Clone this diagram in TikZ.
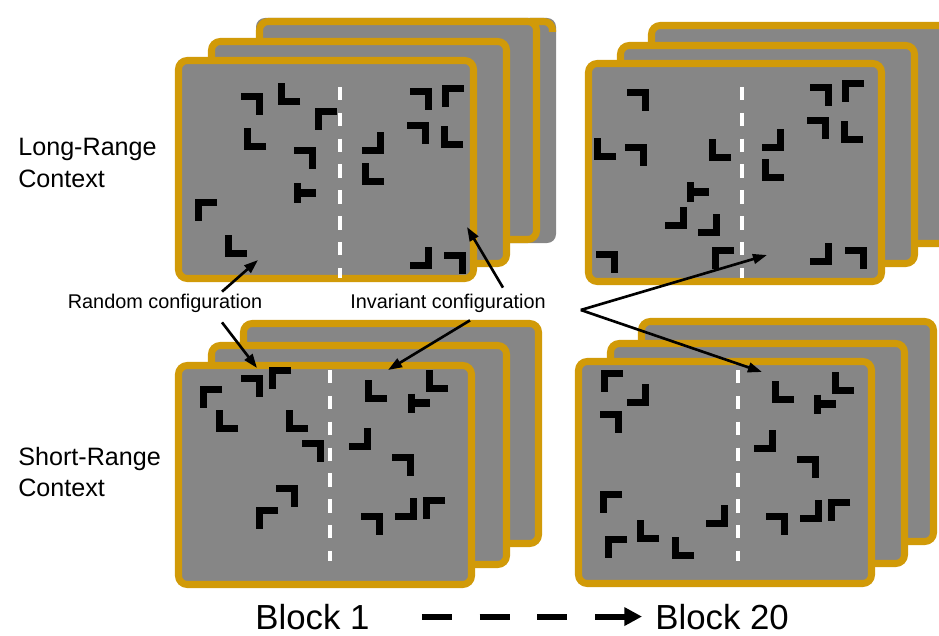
\documentclass[tikz,border=0pt]{standalone}
\usepackage{fontspec}
\setmainfont{Liberation Sans}
\usetikzlibrary{calc,arrows.meta}
\definecolor{cardgold}{RGB}{209,154,8}
\definecolor{cardgray}{RGB}{134,134,134}
\begin{document}
\begin{tikzpicture}[x=0.2mm,y=-0.2mm,>={Triangle[length=8pt,width=5.5pt]},
	card/.style={fill=cardgray,draw=cardgold,line width=4pt,rounded corners=5pt},
	divider/.style={white,line width=2.4pt,dash pattern=on 7.6pt off 7.1pt},
	elem/.style={line width=4pt,line join=miter},
	lbl/.style={font=\fontsize{14.3}{18.1}\selectfont,align=left,anchor=west,inner sep=0pt},
	cfg/.style={font=\fontsize{11.3}{13.6}\selectfont,inner sep=1pt},
	cfgarrow/.style={->,line width=1.5pt},
	blk/.style={font=\fontsize{19.8}{24}\selectfont,anchor=base west,inner sep=0pt},
	blkarrow/.style={-{Triangle[length=10pt,width=10pt]},line width=3.4pt,dash pattern=on 17pt off 15.9pt}]
	\useasboundingbox (0,0) rectangle (939,636);
	\fill[cardgray,rounded corners=5pt] (256,18) rectangle (556,243);
	\draw[cardgold,line width=4pt,rounded corners=5pt] (530,21.5) -- (552.5,21.5) -- (552.5,32);
	\foreach \a/\b/\c/\d in {259.5/21.5/536.5/239.5, 211.5/41.5/506.5/263.5, 178.5/60.5/473.5/278.5,
		651.5/25.5/960/243.5, 620.5/45.5/914.5/263.5, 588.5/63.5/881.5/281.5,
		243.5/323.5/538.5/543.5, 211.5/345.5/506.5/564.5, 178.5/365.5/471.5/584.5,
		641.5/321.5/933.5/541.5, 610.5/343.5/904.5/563.5, 578.5/361.5/871.5/583.5}
		\draw[card] (\a,\b) rectangle (\c,\d);
	\foreach \px/\py/\sx/\sy in {252/104/1/1, 289/94/-1/-1, 326/119/-1/1, 255/139/-1/-1, 305/158/1/1,
		206/210/-1/1, 236/246/-1/-1, 421/99/1/1, 453/96/-1/1, 418/133/1/1, 452/137/-1/-1,
		373/143/1/-1, 373/174/-1/-1, 421/258/1/-1, 455/263/1/1,
		638/100/1/1, 605/149/-1/-1, 636/155/1/1, 720/150/-1/-1, 676/218/1/-1, 709/225/1/-1,
		607/262/1/1, 723/258/-1/1, 821/95/1/1, 853/91/-1/1, 818/128/1/1, 852/132/-1/-1,
		773/140/1/-1, 773/170/-1/-1, 821/254/1/-1, 856/258/1/1,
		252/386/1/1, 280/378/-1/1, 211/397/-1/1, 227/421/-1/-1, 297/421/-1/-1, 313/451/1/1,
		287/496/1/1, 267/518/-1/1, 376/391/-1/-1, 437/381/-1/-1, 360/439/1/-1, 403/465/1/1,
		372/524/1/1, 406/509/1/-1, 434/508/-1/1,
		612/381/-1/1, 638/395/1/-1, 611/422/1/1, 611/502/-1/1, 648/531/-1/-1, 616/547/-1/1,
		683/548/-1/-1, 717/516/1/-1, 783/392/-1/-1, 843/383/-1/-1, 765/441/1/-1, 808/467/1/1,
		777/524/1/1, 811/511/1/-1, 839/510/-1/1}
		\draw[elem,shift={(\px,\py)},xscale=\sx,yscale=\sy] (-11,-7.5) -- (7.5,-7.5) -- (7.5,11);
	\foreach \px/\py in {305/193, 698/192, 419/403, 825/404}
		\draw[elem,shift={(\px,\py)}] (-7.5,-9.5) -- (-7.5,9.5) (-7.5,0) -- (11,0);
	\foreach \x/\y in {340/87, 742/87, 330/370, 738/370}
		\draw[divider] (\x,\y) -- ++(0,191);
	\node[lbl] (longctx) at (18,163) {Long-Range\\Context};
	\node[lbl] (shortctx) at (18,472) {Short-Range\\Context};
	\node[cfg] (randcfg) at (165,303) {Random configuration};
	\node[cfg] (invcfg) at (448,303) {Invariant configuration};
	\node[blk] (blkA) at (255,629) {Block 1};
	\node[blk] (blkB) at (655,629) {Block 20};
	\path
	(258,260) coordinate (tlrand)
	(257,368) coordinate (blrand)
	(467,227) coordinate (tlinv)
	(388,370) coordinate (blinv)
	(767,255) coordinate (trinv)
	(762,372) coordinate (brinv)
	($(invcfg.east)+(33,7)$) coordinate (fan);
	\draw[cfgarrow] ($(randcfg.north)+(57,0)$) -- (tlrand);
	\draw[cfgarrow] ($(randcfg.south)+(57,8)$) -- (blrand);
	\draw[cfgarrow] ($(invcfg.north)+(55,-4)$) -- (tlinv);
	\draw[cfgarrow] ($(invcfg.south)+(22,6)$) -- (blinv);
	\draw[cfgarrow] (fan) -- (trinv);
	\draw[cfgarrow] (fan) -- (brinv);
	\draw[blkarrow] ($(blkA.east)+(52,0)$) -- ($(blkB.west)+(-13,0)$);
\end{tikzpicture}
\end{document}
